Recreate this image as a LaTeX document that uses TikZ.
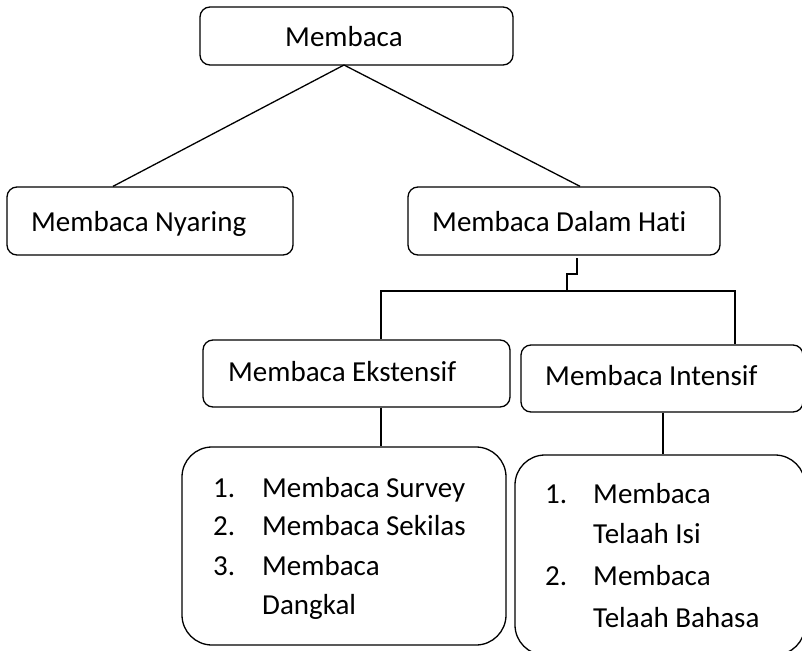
\documentclass[tikz,border=0pt]{standalone}
\usepackage{fontspec}
\setmainfont{Carlito}[Ligatures=NoCommon]
\begin{document}
\begin{tikzpicture}[x=1pt,y=-1pt,
  conn/.style={line width=1.3pt},
  box/.style={draw,line width=1.3pt,rounded corners=10pt,inner sep=0pt},
  listbox/.style={draw,line width=1.3pt,rounded corners=30pt,inner sep=0pt},
  txt/.style={anchor=base west,inner sep=0pt,font=\fontsize{29}{34}\selectfont}]
\useasboundingbox (0,0) rectangle (802,650);
% boxes
\node[box,minimum width=313pt,minimum height=58pt] (top) at (356.5,36) {};
\node[box,minimum width=286pt,minimum height=68pt] (nyar) at (150,221) {};
\node[box,minimum width=312pt,minimum height=68pt] (dalam) at (564,221) {};
\node[box,minimum width=307pt,minimum height=67pt] (ekst) at (356.5,373.5) {};
\node[box,minimum width=282pt,minimum height=67pt] (inten) at (662,378.5) {};
\node[listbox,minimum width=324pt,minimum height=198pt] (listL) at (344,546) {};
\node[listbox,minimum width=290pt,minimum height=200pt] (listR) at (660,555) {};
% texts
\node[txt] (t0) at (285,46.7) {Membaca};
\node[txt] (t1) at (31,231) {Membaca Nyaring};
\node[txt] (t2) at (432,231) {Membaca Dalam Hati};
\node[txt] (t3) at (228,381) {Membaca Ekstensif};
\node[txt] (t4) at (545,385) {Membaca Intensif};
\node[txt] (l1n) at (213,497) {1.};
\node[txt] (l1) at (262,497) {Membaca Survey};
\node[txt] (l2n) at (213,535) {2.};
\node[txt] (l2) at (262,535) {Membaca Sekilas};
\node[txt] (l3n) at (213,575) {3.};
\node[txt] (l3) at (262,575) {Membaca};
\node[txt] (l4) at (262,614) {Dangkal};
\node[txt] (r1n) at (545,503) {1.};
\node[txt] (r1) at (593,503) {Membaca};
\node[txt] (r2) at (593,543) {Telaah Isi};
\node[txt] (r3n) at (545,585) {2.};
\node[txt] (r3) at (593,585) {Membaca};
\node[txt] (r4) at (593,627) {Telaah Bahasa};
% connectors
\coordinate (apex) at (344,65);
\draw[conn] (apex) -- (nyar.north -| 113,0);
\draw[conn] (apex) -- (dalam.north -| 580,0);
\coordinate (d0) at (577,258);
\coordinate (bar) at (567,291);
\draw[conn] (d0) -- (577,274) -- (567,274) -- (bar);
\draw[conn] (ekst.north -| 381,0) -- (381,291) -- (735,291) -- (inten.north -| 735,0);
\draw[conn] (ekst.south -| 381,0) -- (listL.north -| 381,0);
\draw[conn] (inten.south -| 663,0) -- (listR.north -| 663,0);
\end{tikzpicture}
\end{document}
